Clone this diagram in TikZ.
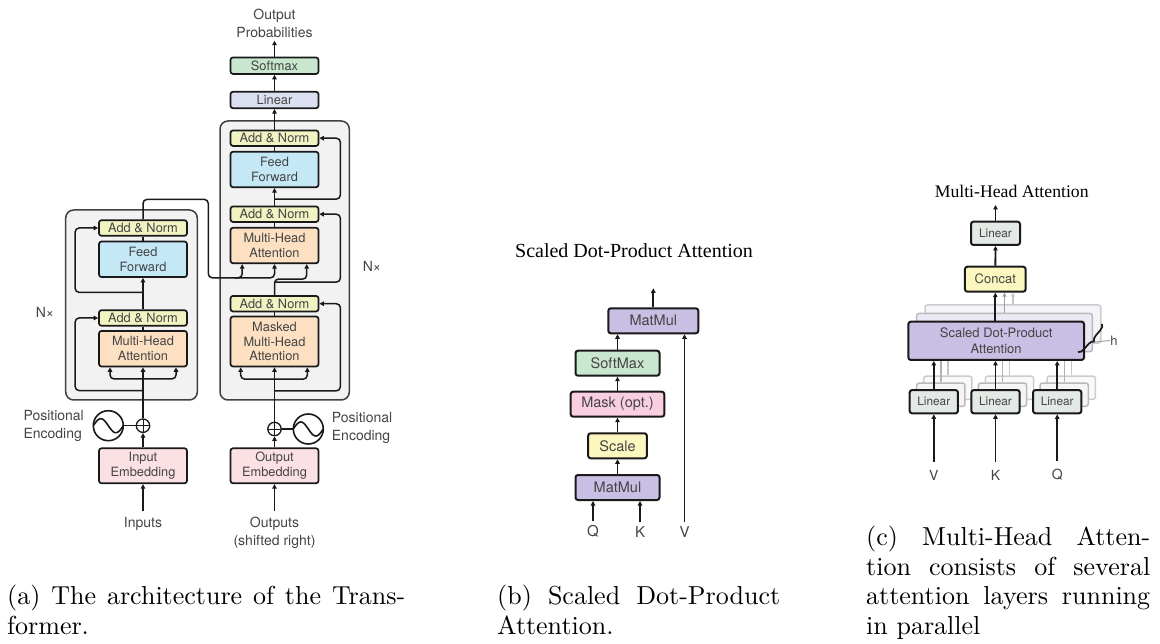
\documentclass[tikz,border=0pt]{standalone}
\usepackage{fontspec}
\newfontfamily\helv{TeX Gyre Heros}
\newfontfamily\tms{Liberation Serif}
\newfontfamily\capf{lmroman10-regular.otf}
\usetikzlibrary{arrows.meta,decorations.pathreplacing,calc}

\definecolor{cAN}{RGB}{242,243,194}
\definecolor{cFF}{RGB}{196,232,246}
\definecolor{cMHA}{RGB}{252,224,193}
\definecolor{cEmb}{RGB}{251,224,228}
\definecolor{cLinA}{RGB}{220,223,241}
\definecolor{cSoft}{RGB}{201,231,207}
\definecolor{cOuter}{RGB}{242,242,242}
\definecolor{cMM}{RGB}{201,190,227}
\definecolor{cMask}{RGB}{248,206,224}
\definecolor{cScale}{RGB}{252,247,190}
\definecolor{cLinC}{RGB}{227,233,229}
\definecolor{cTxt}{RGB}{68,68,68}
\definecolor{cLine}{RGB}{25,25,25}

\tikzset{
  blk/.style={draw=cLine, line width=1.7pt, rounded corners=2.5pt, align=center,
    inner sep=0pt, text=cTxt},
  fa/.style={blk, font=\helv\fontsize{12.8}{14.8}\selectfont, minimum width=88pt},
  anb/.style={fa, fill=cAN, minimum height=15.5pt},
  ffb/.style={fa, fill=cFF, minimum height=35.5pt},
  mhab/.style={fa, fill=cMHA, minimum height=35.5pt},
  embb/.style={fa, fill=cEmb, minimum height=35pt},
  linb/.style={fa, fill=cLinA, minimum height=16.5pt},
  smb/.style={fa, fill=cSoft, minimum height=16.5pt},
  outerb/.style={draw=black!75, line width=1.5pt, rounded corners=8pt, fill=cOuter},
  plusb/.style={circle, draw=cLine, line width=1.3pt, fill=white, minimum size=13.4pt,
    inner sep=0pt, path picture={
      \draw[line width=1pt] (path picture bounding box.north) -- (path picture bounding box.south)
        (path picture bounding box.west) -- (path picture bounding box.east);}},
  waveb/.style={circle, draw=cLine, line width=1.6pt, fill=white, minimum size=30pt,
    inner sep=0pt, path picture={
      \draw[line width=1.6pt, shift={(path picture bounding box.center)}]
        plot[domain=-15:15, samples=40, smooth] (\x,{7*sin(12*\x)});}},
  wire/.style={draw=cLine, line width=1.5pt},
  arr/.style={wire, -{Triangle[length=4.5pt,width=4.5pt]}},
  lbl/.style={text=cTxt, font=\helv\fontsize{14}{18}\selectfont, inner sep=0pt, align=center},
  bb/.style={blk, line width=2pt, font=\helv\fontsize{14.5}{17}\selectfont, minimum height=25pt},
  cb/.style={blk, line width=2pt, font=\helv\fontsize{13}{15.5}\selectfont},
  ghostb/.style={draw=gray!55, line width=1.5pt, rounded corners=2.5pt, inner sep=0pt},
  ghostl/.style={draw=gray!60, line width=1.4pt},
  ttl/.style={inner sep=0pt, text=black},
  capline/.style={inner sep=0pt, font=\capf\fontsize{26}{30}\selectfont, anchor=base west},
}

\begin{document}
\begin{tikzpicture}[x=1pt, y=-1pt]
\useasboundingbox (0,0) rectangle (1160,644);

% ---------------- Transformer: encoder ----------------
\node[outerb, minimum width=131.6pt, minimum height=190pt] (eBox) at (131.5,305) {};
\node[anb]  (eAN2) at (143,228)   {Add \& Norm};
\node[ffb]  (eFF)  at (143,259.3) {Feed\\Forward};
\node[anb]  (eAN1) at (143,318)   {Add \& Norm};
\node[mhab] (eMHA) at (143,348.7) {Multi-Head\\Attention};
\node[plusb] (ePlus) at (143,425.7) {};
\node[waveb] (eWave) at (108.3,425.7) {};
\node[embb] (eEmb) at (143,465.8) {Input\\Embedding};
\node[lbl] (inputs) at (143,524) {Inputs};
\node[lbl, align=left, anchor=west] (ePos) at (23.3,425.5) {Positional\\Encoding};
\node[lbl] (eN) at (45,312.3) {N×};

% ---------------- Transformer: decoder ----------------
\node[outerb, minimum width=129.3pt, minimum height=279pt] (dBox) at (284.65,260.5) {};
\node[smb]  (dSoft) at (274.5,65.7)  {Softmax};
\node[linb] (dLin)  at (274.5,100)   {Linear};
\node[anb]  (dAN3)  at (274.5,138.2) {Add \& Norm};
\node[ffb]  (dFF)   at (274.5,169.5) {Feed\\Forward};
\node[anb]  (dAN2)  at (274.5,214.2) {Add \& Norm};
\node[mhab] (dMHA)  at (274.5,245.5) {Multi-Head\\Attention};
\node[anb]  (dAN1)  at (274.5,303.7) {Add \& Norm};
\node[mhab, minimum height=50pt] (dMMHA) at (274.5,341.5) {Masked\\Multi-Head\\Attention};
\node[plusb] (dPlus) at (274.5,429) {};
\node[waveb] (dWave) at (308.3,429) {};
\node[embb] (dEmb) at (274.5,465.8) {Output\\Embedding};
\node[lbl] (outputs) at (274.5,533) {Outputs\\(shifted right)};
\node[lbl] (outProb) at (274.5,23.2) {Output\\Probabilities};
\node[lbl, align=left, anchor=west] (dPos) at (331.7,427.5) {Positional\\Encoding};
\node[lbl] (dN) at (372,266) {N×};

% encoder wiring
\draw[arr, shorten <=6pt] (inputs) -- (eEmb);
\draw[arr] (eEmb) -- (ePlus);
\draw[wire] (eWave) -- (ePlus);
\draw[arr] (ePlus) -- (eMHA);
\draw[arr, rounded corners=4pt] ($(eMHA.south)+(0,11.6)$) -| ($(eMHA.south)+(-33,0)$);
\draw[arr, rounded corners=4pt] ($(eMHA.south)+(0,11.6)$) -| ($(eMHA.south)+(33,0)$);
\draw[arr, rounded corners=4pt] ($(eMHA.south)+(0,23.3)$) -| ($(eAN1.west)+(-23,0)$) -- (eAN1.west);
\draw[wire] (eMHA) -- (eAN1);
\draw[arr] (eAN1) -- (eFF);
\draw[arr, rounded corners=4pt] ($(eAN1.north)+(0,-17)$) -| ($(eAN2.west)+(-23,0)$) -- (eAN2.west);
\draw[wire] (eFF) -- (eAN2);

% encoder output into the decoder attention (K and V)
\draw[arr, rounded corners=4pt] (eAN2.north) -- ++(0,-20) -| ($(dMHA.south)+(-66.2,13.75)$)
  -| ($(dMHA.south)+(-32.3,0)$);
\draw[arr, rounded corners=4pt] ($(dMHA.south)+(-40,13.75)$) -| (dMHA.south);

% decoder wiring
\draw[arr, shorten <=6pt] (outputs) -- (dEmb);
\draw[arr] (dEmb) -- (dPlus);
\draw[wire] (dWave) -- (dPlus);
\draw[arr] (dPlus) -- (dMMHA);
\draw[arr, rounded corners=4pt] ($(dMMHA.south)+(0,11.8)$) -| ($(dMMHA.south)+(-33.8,0)$);
\draw[arr, rounded corners=4pt] ($(dMMHA.south)+(0,11.8)$) -| ($(dMMHA.south)+(32.8,0)$);
\draw[arr, rounded corners=4pt] ($(dMMHA.south)+(0,23.5)$) -| ($(dAN1.east)+(21,0)$) -- (dAN1.east);
\draw[wire] (dMMHA) -- (dAN1);
\draw[arr, rounded corners=4pt] (dAN1.north) -- ++(0,-16) -| ($(dMHA.south)+(32.2,0)$);
\draw[arr, rounded corners=4pt] ($(dAN1.north)+(0,-13)$) -| ($(dAN2.east)+(21,0)$) -- (dAN2.east);
\draw[wire] (dMHA) -- (dAN2);
\draw[arr] (dAN2) -- (dFF);
\draw[arr, rounded corners=4pt] ($(dAN2.north)+(0,-6.5)$) -| ($(dAN3.east)+(21,0)$) -- (dAN3.east);
\draw[wire] (dFF) -- (dAN3);
\draw[arr] (dAN3) -- (dLin);
\draw[arr] (dLin) -- (dSoft);
\draw[arr, shorten >=3pt] (dSoft) -- (outProb);

% ---------------- Scaled dot-product attention ----------------
\node[ttl, font=\tms\fontsize{20}{24}\selectfont] (bTitle) at (634,250.7) {Scaled Dot-Product Attention};
\node[bb, fill=cMM,    minimum width=90pt]   (bMM2)   at (653.3,320.8) {MatMul};
\node[bb, fill=cSoft,  minimum width=84pt]   (bSM)    at (617.5,363.2) {SoftMax};
\node[bb, fill=cMask,  minimum width=93.6pt] (bMask)  at (617.5,404.2) {Mask (opt.)};
\node[bb, fill=cScale, minimum width=58.7pt] (bScale) at (617.5,445.8) {Scale};
\node[bb, fill=cMM,    minimum width=84pt]   (bMM1)   at (617.5,487.5) {MatMul};
\node[lbl, font=\helv\fontsize{15}{18}\selectfont] (bQ) at (593,531.7) {Q};
\node[lbl, font=\helv\fontsize{15}{18}\selectfont] (bK) at (640,531.7) {K};
\node[lbl, font=\helv\fontsize{15}{18}\selectfont] (bV) at (684.5,531.7) {V};
\coordinate (bOut) at (653.3,288.3);

\draw[arr, line width=1.8pt, shorten <=4pt] (bQ) -- (bQ|-bMM1.south);
\draw[arr, line width=1.8pt, shorten <=4pt] (bK) -- (bK|-bMM1.south);
\draw[arr, line width=1.8pt, shorten <=4pt] (bV) -- (bV|-bMM2.south);
\draw[arr, line width=1.8pt] (bMM1) -- (bScale);
\draw[arr, line width=1.8pt] (bScale) -- (bMask);
\draw[arr, line width=1.8pt] (bMask) -- (bSM);
\draw[arr, line width=1.8pt] (bSM.north) -- (bSM.north|-bMM2.south);
\draw[arr, line width=1.8pt] (bMM2.north) -- (bOut);

% ---------------- Multi-head attention ----------------
\node[ttl, font=\tms\fontsize{17.7}{21}\selectfont] (cTitle) at (1011.7,191.7) {Multi-Head Attention};
\coordinate (cOut) at (995.5,205);
\node[cb, fill=cLinC, minimum width=49pt, minimum height=23.3pt,
  font=\helv\fontsize{11.8}{14}\selectfont] (cLin) at (995.5,233.3) {Linear};
\node[cb, fill=cScale, minimum width=60.7pt, minimum height=25pt] (cCat) at (995.3,279.2) {Concat};

% stacked heads behind the attention block
\node[ghostb, draw=gray!40, fill=cMM!18, minimum width=175.7pt, minimum height=38.3pt] (cS3) at (1012.9,324.1) {};
\node[ghostb, fill=cMM!35, minimum width=175.7pt, minimum height=38.3pt] (cS2) at (1004.5,332.5) {};
\draw[ghostl, draw=gray!45, -{Triangle[length=4pt,width=4pt]}] (cS3.north) -- (cS3.north|-cCat.south);
\draw[ghostl, draw=gray!75, -{Triangle[length=4pt,width=4pt]}] (cS2.north) -- (cS2.north|-cCat.south);

\foreach \n/\x in {V/933.8, K/995.5, Q/1057.2} {
  \node[ghostb, draw=gray!40, fill=gray!5, minimum width=48.3pt, minimum height=23.3pt] (cG\n3) at (\x+14,387.7) {};
  \node[ghostb, fill=gray!8, minimum width=48.3pt, minimum height=23.3pt] (cG\n2) at (\x+7,394.7) {};
  \draw[ghostl, draw=gray!45] (cG\n3.north) -- ++(0,-30);
  \draw[ghostl] (cG\n2.north) -- ++(0,-30);
}

\node[cb, fill=cMM, minimum width=175.7pt, minimum height=38.3pt] (cSDPA) at (996.2,340.8)
  {Scaled Dot-Product\\Attention};
\draw[arr, line width=1.8pt] (cSDPA.north-|cCat) -- (cCat);
\draw[arr, line width=1.8pt] (cCat) -- (cLin);
\draw[arr, line width=1.8pt] (cLin) -- (cOut);

\foreach \n/\x in {V/933.8, K/995.5, Q/1057.2} {
  \node[cb, fill=cLinC, minimum width=48.3pt, minimum height=23.3pt,
    font=\helv\fontsize{11.8}{14}\selectfont] (cL\n) at (\x,401.7) {Linear};
  \node[lbl, font=\helv\fontsize{14}{17}\selectfont] (cI\n) at (\x,475) {\n};
  \draw[arr, line width=1.8pt] (cL\n) -- (cL\n|-cSDPA.south);
  \draw[arr, line width=1.8pt, shorten <=8pt] (cI\n) -- (cL\n);
}

% number of heads
\draw[cLine, line width=1.7pt, decorate, decoration={brace, amplitude=5.5pt}] (1102,324) -- (1078,352);
\node[lbl, font=\helv\fontsize{13}{15}\selectfont] (cH) at (1114,340.5) {h};
\draw[draw=gray!70, line width=1pt] (1094.3,342) -- (cH.west);

% ---------------- captions ----------------
\node[capline] (capA1) at (7,604) {\makebox[398pt][s]{(a) The architecture of the Trans-}};
\node[capline] (capA2) at (7,634) {former.};
\node[capline] (capB1) at (497,604) {\makebox[283pt][s]{(b) Scaled Dot-Product}};
\node[capline] (capB2) at (497,634) {Attention.};
\node[capline] (capC1) at (866,545) {\makebox[284pt][s]{(c) Multi-Head Atten-}};
\node[capline] (capC2) at (866,575) {\makebox[284pt][s]{tion consists of several}};
\node[capline] (capC3) at (866,604) {\makebox[284pt][s]{attention layers running}};
\node[capline] (capC4) at (866,634) {in parallel};
\end{tikzpicture}
\end{document}
